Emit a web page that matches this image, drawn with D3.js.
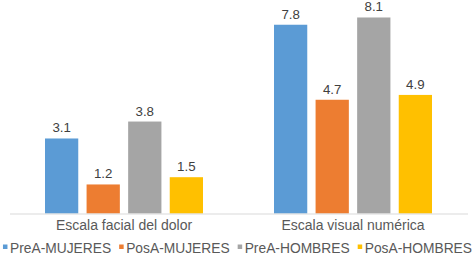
<!DOCTYPE html>
<html><head><meta charset="utf-8">
<script src="https://cdn.jsdelivr.net/npm/d3@7"></script>
<style>body{margin:0;background:#fff;}svg{display:block;font-family:"Liberation Sans",Arial,sans-serif;}</style>
</head><body><svg id="c" width="473" height="254"></svg>
<script>
const categories = ["Escala facial del dolor", "Escala visual numérica"];
const seriesNames = ["PreA-MUJERES", "PosA-MUJERES", "PreA-HOMBRES", "PosA-HOMBRES"];
const preMujeres = [3.1, 7.8];
const posMujeres = [1.2, 4.7];
const preHombres = [3.8, 8.1];
const posHombres = [1.5, 4.9];
const colors = ["#5B9BD5", "#ED7D31", "#A5A5A5", "#FFC000"];

const seriesValues = [preMujeres, posMujeres, preHombres, posHombres];
const svg = d3.select("#c");
const W = 473, H = 254;
const plot = {left: 9.5, right: 467.5, top: 10, bottom: 213.5};

const x0 = d3.scaleBand().domain(categories).range([plot.left, plot.right]).padding(0);
const groupPad = 35.5;
const x1 = d3.scaleBand().domain(seriesNames)
  .range([groupPad, x0.bandwidth() - groupPad]).paddingInner(0.2).paddingOuter(0);
const y = d3.scaleLinear().domain([0, 9]).range([plot.bottom, plot.bottom - 9 * 24.2]);

const g = svg.append("g");
categories.forEach((cat, ci) => {
  const gg = g.append("g").attr("transform", `translate(${x0(cat)},0)`);
  seriesNames.forEach((s, si) => {
    const v = seriesValues[si][ci];
    gg.append("rect")
      .attr("x", x1(s)).attr("width", x1.bandwidth())
      .attr("y", y(v)).attr("height", y(0) - y(v))
      .attr("fill", colors[si]);
    gg.append("text")
      .attr("x", x1(s) + x1.bandwidth() / 2).attr("y", y(v) - 6)
      .attr("text-anchor", "middle").attr("font-size", "13.3px").attr("fill", "#404040")
      .text(v.toFixed(1));
  });
});

// axis
const xAxis = d3.axisBottom(x0).tickSize(0).tickPadding(0);
const ax = svg.append("g").attr("transform", `translate(0,${plot.bottom})`).call(xAxis);
ax.select(".domain").attr("stroke", "#D9D9D9").attr("stroke-width", 1);
ax.selectAll("text").attr("font-size", "14px").attr("fill", "#595959")
  .attr("font-family", "Liberation Sans, Arial, sans-serif").attr("dy", null).attr("y", 16.5);

// legend
const leg = svg.append("g").attr("transform", `translate(0,252.5)`);
const items = seriesNames.map((s, i) => {
  const it = leg.append("g");
  it.append("rect").attr("width", 4.5).attr("height", 4.5).attr("y", -8).attr("fill", colors[i]);
  const t = it.append("text").attr("x", 7).attr("font-size", "13.8px").attr("fill", "#595959").text(s);
  return {it, w: 7 + t.node().getComputedTextLength()};
});
const gap = 8;
const total = d3.sum(items, d => d.w) + gap * (items.length - 1);
let cx = W / 2 - total / 2 + 1;
items.forEach(d => { d.it.attr("transform", `translate(${cx},0)`); cx += d.w + gap; });
</script></body></html>
